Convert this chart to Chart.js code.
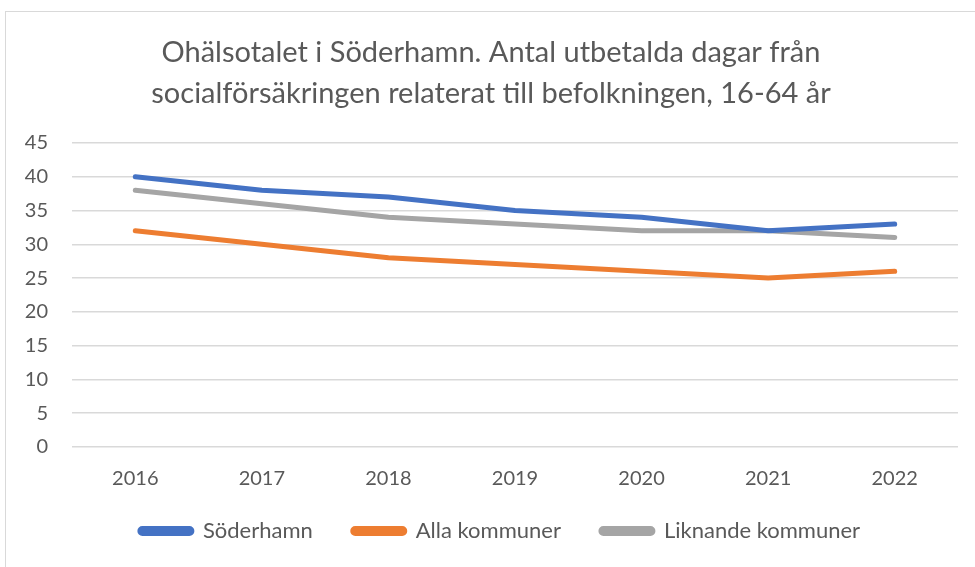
<!DOCTYPE html>
<html>
<head>
<meta charset="utf-8">
<script src="https://cdn.jsdelivr.net/npm/chart.js@4/dist/chart.umd.min.js"></script>
<style>
  html, body { margin: 0; padding: 0; background: #fff; overflow: hidden; }
  #wrap { position: relative; width: 975px; height: 567px; }
  #frame { position: absolute; left: 5px; top: 11px; width: 1000px; height: 600px; border: 1px solid #d9d9d9; box-sizing: border-box; pointer-events: none; }
</style>
</head>
<body>
<div id="wrap">
  <canvas id="chart" width="975" height="567"></canvas>
  <div id="frame"></div>
</div>
<script>
  const years = ["2016", "2017", "2018", "2019", "2020", "2021", "2022"];
  const soderhamn = [40, 38, 37, 35, 34, 32, 33];
  const allaKommuner = [32, 30, 28, 27, 26, 25, 26];
  const liknandeKommuner = [38, 36, 34, 33, 32, 32, 31];
  const titleLines = [
    "Ohälsotalet i Söderhamn. Antal utbetalda dagar från",
    "socialförsäkringen relaterat till befolkningen, 16-64 år"
  ];

  const fontFamily = "Lato, 'Open Sans', sans-serif";
  const textColor = "#595959";

  function line(label, data, color) {
    return {
      label: label,
      data: data,
      borderColor: color,
      backgroundColor: color,
      borderWidth: 5,
      pointRadius: 0,
      tension: 0,
      borderCapStyle: "round",
      borderJoinStyle: "round"
    };
  }

  // move the legend row a bit right and up, like the original
  const legendShift = {
    id: "legendShift",
    afterLayout(chart) {
      const lg = chart.legend;
      lg.left += 9;
      lg.right += 9;
      lg.top -= 15;
      lg.bottom -= 15;
    }
  };

  const ctx = document.getElementById("chart").getContext("2d");

  new Chart(ctx, {
    type: "line",
    data: {
      labels: years,
      datasets: [
        line("Söderhamn", soderhamn, "#4472c4"),
        line("Alla kommuner", allaKommuner, "#ed7d31"),
        line("Liknande kommuner", liknandeKommuner, "#a5a5a5")
      ]
    },
    plugins: [legendShift],
    options: {
      responsive: false,
      animation: false,
      layout: { padding: { left: 24, right: 17, top: 0, bottom: 0 } },
      plugins: {
        tooltip: { enabled: false },
        title: {
          display: true,
          text: titleLines,
          color: textColor,
          font: { family: fontFamily, size: 29, weight: "normal", lineHeight: 1.414 },
          padding: { top: 32, bottom: 29 }
        },
        legend: {
          position: "bottom",
          labels: {
            color: textColor,
            font: { family: fontFamily, size: 22 },
            boxWidth: 52,
            boxHeight: 5,
            padding: 40,
            useBorderRadius: true,
            borderRadius: 2.5
          }
        }
      },
      scales: {
        x: {
          offset: true,
          afterFit: function(scale) { scale.height = 48; },
          grid: { display: false, drawTicks: false },
          border: { display: false },
          ticks: { color: textColor, font: { family: fontFamily, size: 20 }, padding: 20, maxRotation: 0 }
        },
        y: {
          min: 0,
          max: 45,
          afterFit: function(scale) { scale.width = 48; },
          grid: { color: "#d9d9d9", lineWidth: 1.5, drawTicks: false },
          border: { display: false },
          ticks: { stepSize: 5, color: textColor, font: { family: fontFamily, size: 20 }, padding: 24 }
        }
      }
    }
  });
</script>
</body>
</html>
